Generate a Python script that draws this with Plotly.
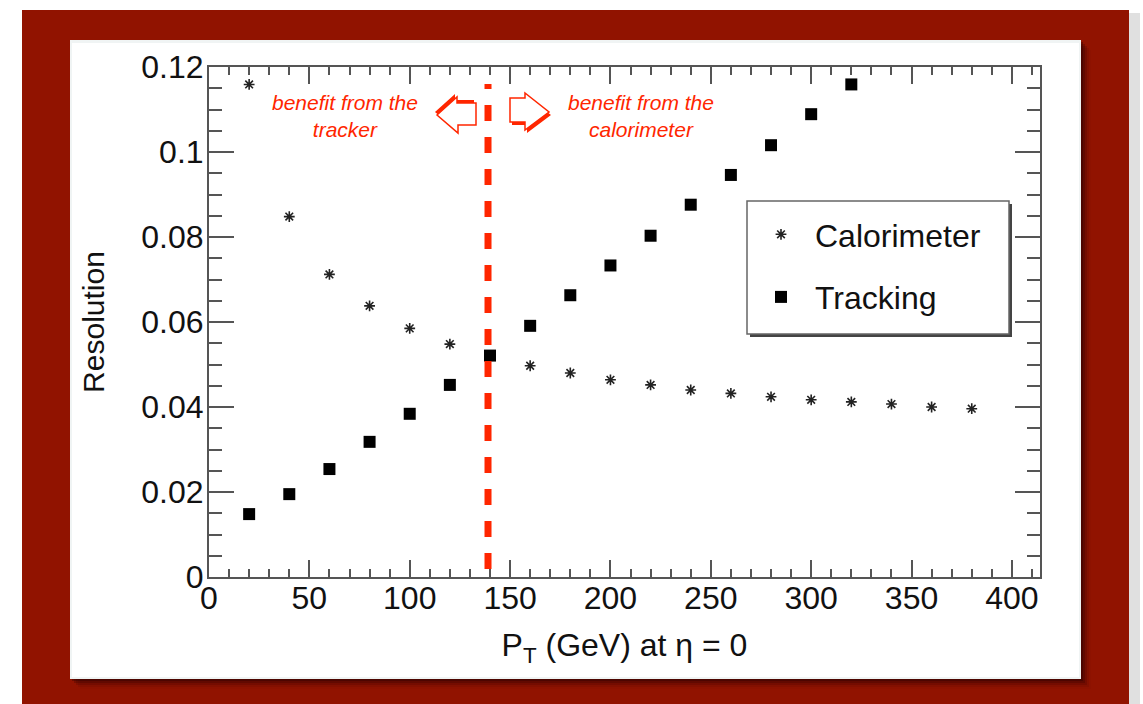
import plotly.graph_objects as go

# Transverse momentum points (GeV) at eta = 0
pt_values = [20, 40, 60, 80, 100, 120, 140, 160, 180, 200,
             220, 240, 260, 280, 300, 320, 340, 360, 380]

# Jet energy resolution from the calorimeter alone
calorimeter_res = [0.1159, 0.0848, 0.0712, 0.0638, 0.0585, 0.0548, 0.0521,
                   0.0497, 0.0480, 0.0464, 0.0452, 0.0440, 0.0432, 0.0424,
                   0.0417, 0.0412, 0.0407, 0.0400, 0.0396]

# Resolution from tracking (only up to 320 GeV)
tracking_pt = [20, 40, 60, 80, 100, 120, 140, 160, 180, 200,
               220, 240, 260, 280, 300, 320]
tracking_res = [0.0148, 0.0195, 0.0254, 0.0318, 0.0384, 0.0452, 0.0521,
                0.0591, 0.0663, 0.0733, 0.0803, 0.0876, 0.0946, 0.1016,
                0.1089, 0.1159]

x_ticks = [0, 50, 100, 150, 200, 250, 300, 350, 400]
y_ticks = [0, 0.02, 0.04, 0.06, 0.08, 0.1, 0.12]
y_tick_text = ["0", "0.02", "0.04", "0.06", "0.08", "0.1", "0.12"]

crossover_pt = 139          # where both resolutions are equal
tracker_note = "benefit from the<br>tracker"
calo_note = "benefit from the<br>calorimeter"

W, H = 1143, 704
ML, MR, MT, MB = 209, 103, 67, 127
PW, PH = W - ML - MR, H - MT - MB

RED = "#ff2600"
FRAME = "#911300"
AXIS = "#555555"
INK = "#111111"
FONT = "Liberation Sans, Arial, Helvetica, sans-serif"


def px(x):
    return (x - ML) / PW


def py(y):
    return (H - MB - y) / PH


def rect(x0, y0, x1, y1, **kw):
    return dict(type="rect", xref="paper", yref="paper",
                x0=px(x0), x1=px(x1), y0=py(y1), y1=py(y0), **kw)


def poly(points, dx=0, dy=0):
    parts = [("M" if i == 0 else "L") + f"{px(a + dx):.5f},{py(b + dy):.5f}"
             for i, (a, b) in enumerate(points)]
    return " ".join(parts) + " Z"


fig = go.Figure()

fig.add_trace(go.Scatter(
    x=pt_values, y=calorimeter_res, mode="markers", name="Calorimeter",
    legendgroup="calo",
    marker=dict(symbol="asterisk-open", size=9, color="#222222",
                line=dict(color="#222222", width=1.6)),
))
fig.add_trace(go.Scatter(
    x=tracking_pt, y=tracking_res, mode="markers", name="Tracking",
    legendgroup="trk",
    marker=dict(symbol="square", size=12, color="black",
                line=dict(width=0)),
))

shapes = []
# page frame, its shadow and the white card
shapes.append(rect(25, 13, 1140, 715, fillcolor="rgba(0,0,0,0.12)",
                   line=dict(width=0), layer="below"))
shapes.append(rect(22, 10, 1129, 715, fillcolor=FRAME,
                   line=dict(width=0), layer="below"))
for i, a in enumerate([0.35, 0.25, 0.16, 0.09, 0.04]):
    shapes.append(rect(70 + 2 + 2 * i, 40 + 2 + 2 * i, 1081 + 2 + 2 * i,
                       679 + 2 + 2 * i, fillcolor=f"rgba(40,0,0,{a})",
                       line=dict(width=0), layer="below"))
shapes.append(rect(70, 40, 1081, 679, fillcolor="#f0f4f4",
                   line=dict(width=0), layer="below"))
shapes.append(rect(72, 43, 1079, 677, fillcolor="white",
                   line=dict(width=0), layer="below"))

# legend box with drop shadow
shapes.append(rect(750, 204, 1012, 337, fillcolor="#444444",
                   line=dict(width=0)))
shapes.append(rect(747, 201, 1009, 334, fillcolor="white",
                   line=dict(color="#666666", width=1.5)))

# dashed crossover line
shapes.append(dict(type="line", xref="x", yref="y",
                   x0=crossover_pt, x1=crossover_pt,
                   y0=(H - MB - 569) / 4250, y1=(H - MB - 84) / 4250,
                   line=dict(color=RED, width=7, dash="16px,16px")))

# outlined arrows pointing to each side of the line
left_arrow = [(437, 115), (457, 97), (457, 103), (476, 103),
              (476, 125), (458, 125), (458, 133)]
right_arrow = [(510, 98), (525, 98), (525, 93), (549, 112),
               (525, 130), (525, 122), (510, 122)]
shapes.append(dict(type="path", xref="paper", yref="paper",
                   path=poly(left_arrow, -2, -3), fillcolor=RED,
                   line=dict(width=0)))
shapes.append(dict(type="path", xref="paper", yref="paper",
                   path=poly(left_arrow), fillcolor="white",
                   line=dict(color=RED, width=1.5)))
shapes.append(dict(type="path", xref="paper", yref="paper",
                   path=poly(right_arrow, 2, 3), fillcolor=RED,
                   line=dict(width=0)))
shapes.append(dict(type="path", xref="paper", yref="paper",
                   path=poly(right_arrow), fillcolor="white",
                   line=dict(color=RED, width=1.5)))

annotations = [
    dict(x=px(345), y=py(116), xref="paper", yref="paper",
         xanchor="center", yanchor="middle",
         text=f"<i>{tracker_note}</i>", showarrow=False,
         font=dict(family=FONT, size=21, color=RED), align="center"),
    dict(x=px(641), y=py(116), xref="paper", yref="paper",
         xanchor="center", yanchor="middle",
         text=f"<i>{calo_note}</i>", showarrow=False,
         font=dict(family=FONT, size=21, color=RED), align="center"),
]

axis_common = dict(
    showline=True, linecolor=AXIS, linewidth=2, mirror="ticks",
    ticks="inside", tickcolor=AXIS, tickwidth=1.5,
    showgrid=False, zeroline=False,
    tickfont=dict(family=FONT, size=32, color=INK),
)

fig.update_layout(
    width=W, height=H,
    margin=dict(l=ML, r=MR, t=MT, b=MB),
    paper_bgcolor="white", plot_bgcolor="white",
    shapes=shapes, annotations=annotations,
    showlegend=True,
    legend=dict(x=px(747), y=py(207), xanchor="left", yanchor="top",
                bgcolor="rgba(0,0,0,0)", borderwidth=0,
                font=dict(family=FONT, size=32, color=INK),
                tracegroupgap=18, itemsizing="trace", itemwidth=58),
    xaxis=dict(range=[0, 414], tickvals=x_ticks, ticklen=17,
               ticklabelstandoff=-8,
               minor=dict(dtick=10, ticks="inside", ticklen=8,
                          tickcolor=AXIS, tickwidth=1.5),
               title=dict(text="P<sub>T</sub> (GeV) at η = 0",
                          font=dict(family=FONT, size=32, color=INK),
                          standoff=18),
               **axis_common),
    yaxis=dict(range=[0, 0.12], tickvals=y_ticks, ticktext=y_tick_text,
               ticklen=25, ticklabelstandoff=-3,
               minor=dict(dtick=0.005, ticks="inside", ticklen=13,
                          tickcolor=AXIS, tickwidth=1.5),
               title=dict(text="Resolution",
                          font=dict(family=FONT, size=30, color=INK),
                          standoff=28),
               **axis_common),
)

fig.write_html("out.html")
